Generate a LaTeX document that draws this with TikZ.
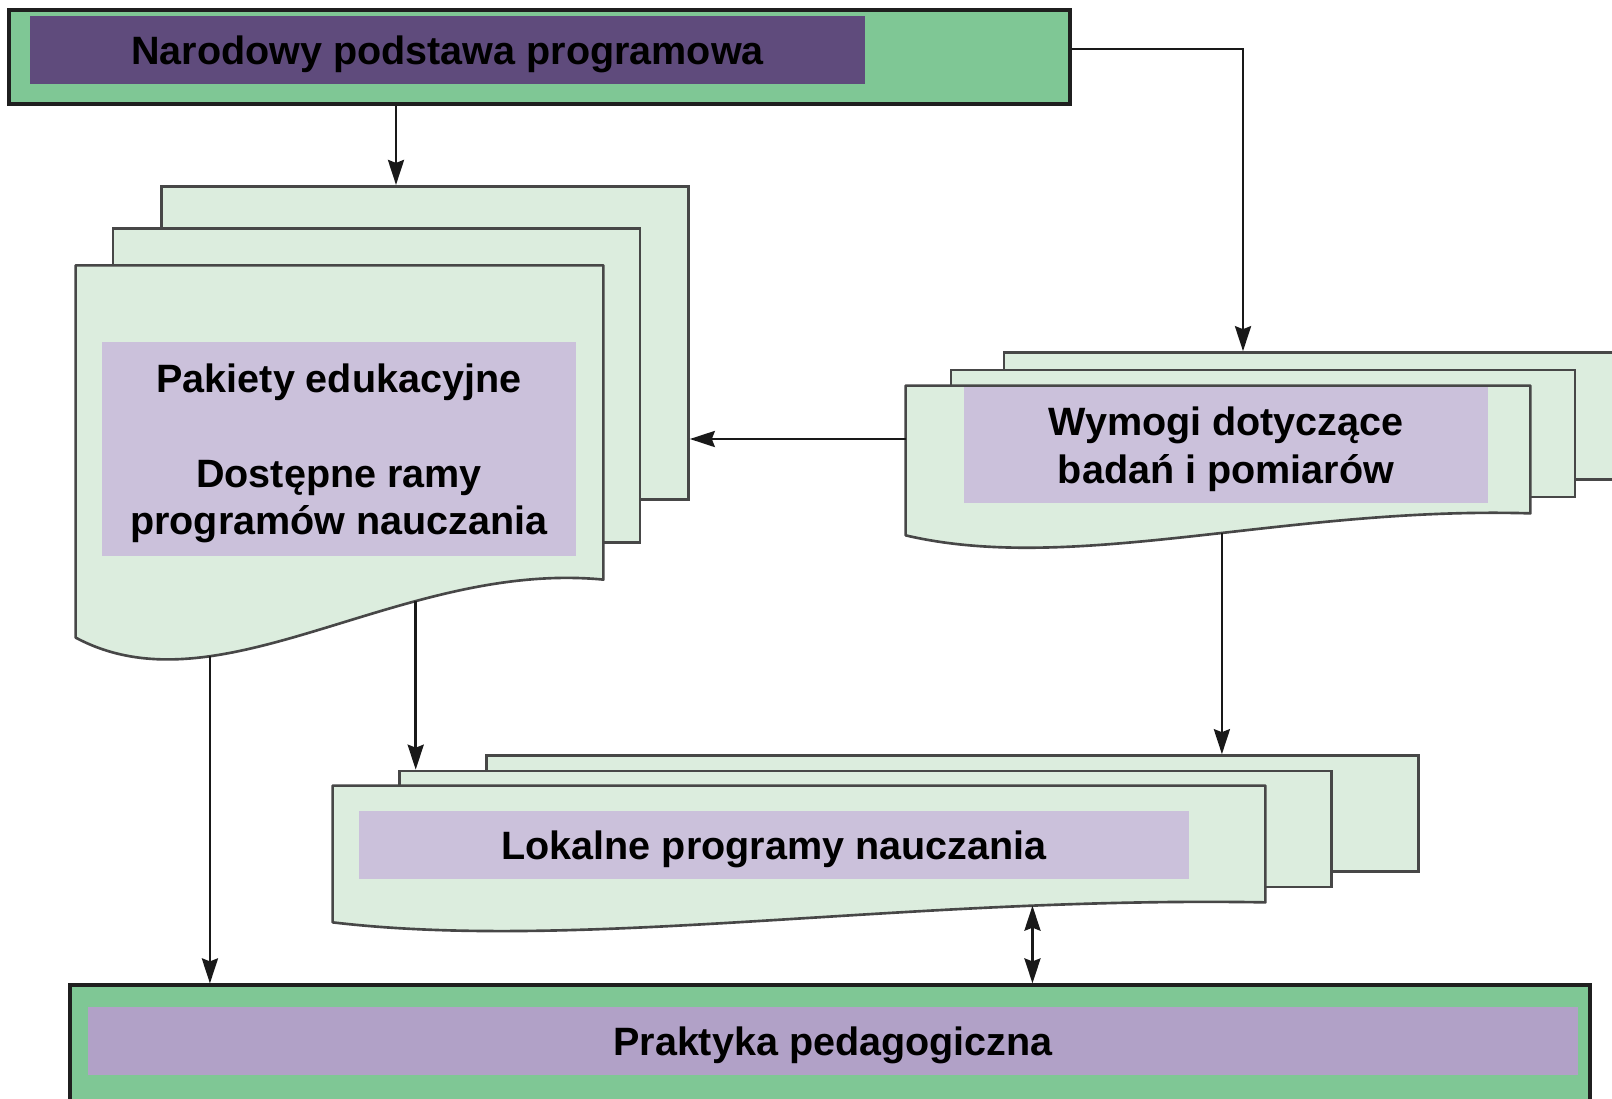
\documentclass[tikz,border=0pt]{standalone}
\usepackage{fontspec}
\setmainfont{Liberation Sans}
\usepackage{xcolor}
\definecolor{bigfill}{RGB}{127,199,149}
\definecolor{topplate}{RGB}{95,75,124}
\definecolor{sheetfill}{RGB}{220,237,222}
\definecolor{platefill}{RGB}{203,193,219}
\definecolor{baseplate}{RGB}{177,161,199}
\colorlet{sheetline}{black!72}
\usetikzlibrary{arrows.meta,calc}

\begin{document}
\begin{tikzpicture}[
  font=\fontsize{22.5}{27}\selectfont\bfseries,
  bigbox/.style={
    rectangle, inner sep=0pt,
    draw=black!88, fill=bigfill,
    line width=1.8pt
  },
  sheet/.style={
    rectangle, inner sep=0pt,
    draw=sheetline, fill=sheetfill,
    line width=1.5pt
  },
  blank/.style={rectangle, inner sep=0pt},
  lsize/.style={minimum width=10.54cm, minimum height=6.27cm},
  rsize/.style={minimum width=12.48cm, minimum height=2.54cm},
  bsize/.style={minimum width=18.64cm, minimum height=2.32cm},
  plate/.style={rectangle, inner sep=0pt, fill=#1, align=center, text depth=0pt},
  wave/.style={draw=sheetline, fill=sheetfill, line width=1.5pt, line join=round},
  tip/.tip={Stealth[length=0.5cm, width=0.32cm, inset=0.06cm]},
  arr/.style={-tip, line width=1.6pt, color=black!90},
  dblarr/.style={tip-tip, line width=1.6pt, color=black!90}
]
\useasboundingbox (0,0) rectangle (32.24,-21.96);

% top and bottom bars
\node[bigbox, minimum width=21.22cm, minimum height=1.88cm] (natl) at (10.79,-1.14) {};
\node[plate=topplate, minimum width=16.70cm, minimum height=1.36cm] (natltext) at (8.95,-1.00)
  {Narodowy podstawa programowa};

\node[bigbox, minimum width=30.40cm, minimum height=2.90cm] (prak) at (16.60,-21.15) {};
\node[plate=baseplate, minimum width=29.80cm, minimum height=1.36cm] (praktext) at (16.66,-20.82)
  {Praktyka pedagogiczna};

% left stack
\node[sheet, lsize] (lback) at (8.50,-6.86) {};
\node[sheet, lsize] (lmid) at (7.53,-7.71) {};
\node[blank, lsize] (lfront) at (6.79,-8.45) {};
\path[wave] (lfront.north west) -- (lfront.north east) -- (lfront.south east)
  .. controls (8.00,-11.20) and (4.40,-14.30) .. ($(lfront.south west)+(0,-1.16)$)
  coordinate[pos=0.32] (lwaveA) coordinate[pos=0.71] (lwaveB) -- cycle;
\node[plate=platefill, minimum width=9.48cm, minimum height=4.28cm] (lpak) at (6.78,-8.98)
  {Pakiety edukacyjne\\[27pt]Dostępne ramy\\programów nauczania};

% right stack
\node[sheet, rsize] (rback) at (26.32,-8.32) {};
\node[sheet, rsize] (rmid) at (25.26,-8.67) {};
\node[blank, rsize] (rfront) at (24.36,-8.99) {};
\path[wave] (rfront.north west) -- (rfront.north east) -- (rfront.south east)
  .. controls (25.74,-10.12) and (21.50,-11.50) .. ($(rfront.south west)+(0,-0.44)$)
  coordinate[pos=0.45] (rwave) -- cycle;
\node[plate=platefill, minimum width=10.48cm, minimum height=2.32cm] (rwym) at (24.52,-8.90)
  {Wymogi dotyczące\\badań i pomiarów};

% lower stack
\node[sheet, bsize] (bback) at (19.05,-16.27) {};
\node[sheet, bsize] (bmid) at (17.31,-16.58) {};
\node[blank, bsize] (bfront) at (15.98,-16.88) {};
\path[wave] (bfront.north west) -- (bfront.north east) -- (bfront.south east)
  .. controls (18.04,-17.92) and (11.70,-19.04) .. ($(bfront.south west)+(0,-0.40)$)
  coordinate[pos=0.22] (bwave) -- cycle;
\node[plate=platefill, minimum width=16.60cm, minimum height=1.36cm] (blok) at (15.48,-16.90)
  {Lokalne programy nauczania};

% connectors
\draw[arr] (natl.south -| 7.92,0) -- (lback.north -| 7.92,0);
\draw[arr] (natl.east |- 0,-0.98) -| (rback.north -| 24.86,0);
\draw[arr] (rfront.west |- 0,-8.78) -- (lback.east |- 0,-8.78);
\draw[arr] (rwave) -- (rwave |- bback.north);
\draw[arr] (lwaveA) -- (lwaveA |- bmid.north);
\draw[arr] (lwaveB) -- (lwaveB |- prak.north);
\draw[dblarr] (bwave) -- (bwave |- prak.north);
\end{tikzpicture}
\end{document}
